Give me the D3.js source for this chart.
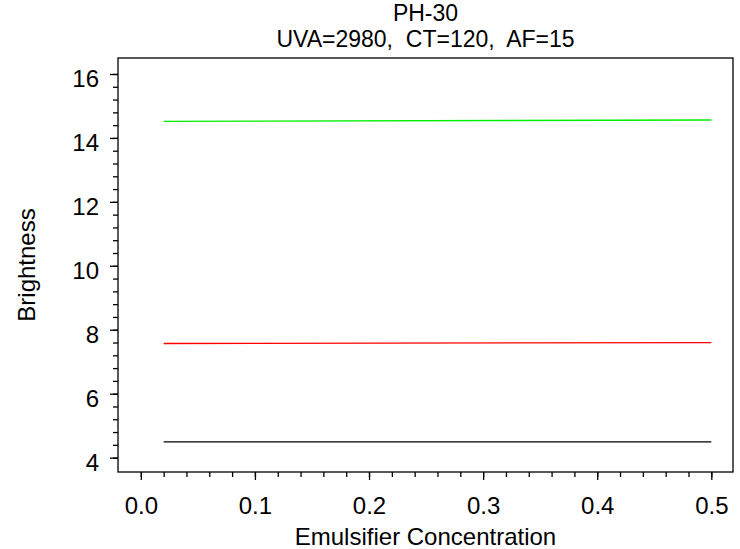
<!DOCTYPE html>
<html>
<head>
<meta charset="utf-8">
<script src="https://cdn.jsdelivr.net/npm/d3@7"></script>
<style>
  body { margin: 0; background: #fff; }
  text { font-family: "Liberation Sans", Arial, sans-serif; fill: #000; }
</style>
</head>
<body>
<div id="chart"></div>
<script>
// data
const concentration = [0.02, 0.5];
const greenSeries = [14.52, 14.56];
const redSeries = [7.57, 7.6];
const blackSeries = [4.49, 4.49];
const xTicks = [0, 0.1, 0.2, 0.3, 0.4, 0.5];
const yTicks = [4, 6, 8, 10, 12, 14, 16];
const titleLines = ['PH-30', 'UVA=2980,  CT=120,  AF=15'];

const width = 740;
const height = 549;
const margin = { top: 58, right: 7, bottom: 77, left: 118 };
const fontSize = '24px';

const svg = d3
  .select('#chart')
  .append('svg')
  .attr('width', width)
  .attr('height', height);

const x = d3
  .scaleLinear()
  .domain([-0.02, 0.519])
  .range([margin.left, width - margin.right]);

const y = d3
  .scaleLinear()
  .domain([3.55, 16.5])
  .range([height - margin.bottom, margin.top]);

// frame
svg
  .append('rect')
  .attr('x', margin.left)
  .attr('y', margin.top)
  .attr('width', width - margin.right - margin.left)
  .attr('height', height - margin.bottom - margin.top)
  .attr('fill', 'none')
  .attr('stroke', '#000')
  .attr('stroke-width', 1.3);

// minor ticks
const xMinor = d3.range(0, 0.5001, 0.02);
const yMinor = d3.range(4, 16.001, 0.4);

svg
  .append('g')
  .attr('transform', 'translate(0,' + (height - margin.bottom) + ')')
  .call(d3.axisBottom(x).tickValues(xMinor).tickSize(5).tickFormat(''))
  .call((g) => g.select('.domain').remove());

svg
  .append('g')
  .attr('transform', 'translate(' + margin.left + ',0)')
  .call(d3.axisLeft(y).tickValues(yMinor).tickSize(5).tickFormat(''))
  .call((g) => g.select('.domain').remove());

// major ticks
const xAxis = svg
  .append('g')
  .attr('transform', 'translate(0,' + (height - margin.bottom) + ')')
  .call(
    d3
      .axisBottom(x)
      .tickValues(xTicks)
      .tickSize(8)
      .tickPadding(17)
      .tickFormat(d3.format('.1f'))
  );
xAxis.select('.domain').remove();
xAxis.selectAll('text').style('font-size', fontSize);

const yAxis = svg
  .append('g')
  .attr('transform', 'translate(' + margin.left + ',0)')
  .call(d3.axisLeft(y).tickValues(yTicks).tickSize(8).tickPadding(11));
yAxis.select('.domain').remove();
yAxis.selectAll('text').style('font-size', fontSize).attr('dy', '0.53em');

svg.selectAll('.tick line').attr('stroke', '#000').attr('stroke-width', 1.3);

// series
const line = d3
  .line()
  .x((d) => x(d[0]))
  .y((d) => y(d[1]));

const seriesList = [
  { values: greenSeries, color: '#00ee00' },
  { values: redSeries, color: '#ff0000' },
  { values: blackSeries, color: '#000000' },
];

seriesList.forEach((s) => {
  svg
    .append('path')
    .datum(concentration.map((c, i) => [c, s.values[i]]))
    .attr('d', line)
    .attr('fill', 'none')
    .attr('stroke', s.color)
    .attr('stroke-width', 1.3);
});

// titles
svg
  .selectAll('.title')
  .data(titleLines)
  .join('text')
  .attr('class', 'title')
  .attr('x', (margin.left + width - margin.right) / 2)
  .attr('y', (d, i) => 21 + i * 26)
  .attr('text-anchor', 'middle')
  .style('font-size', '23px')
  .style('white-space', 'pre')
  .text((d) => d);

svg
  .append('text')
  .attr('x', (margin.left + width - margin.right) / 2)
  .attr('y', 545)
  .attr('text-anchor', 'middle')
  .style('font-size', fontSize)
  .text('Emulsifier Concentration');

svg
  .append('text')
  .attr('transform', 'translate(35,' + (margin.top + height - margin.bottom) / 2 + ') rotate(-90)')
  .attr('text-anchor', 'middle')
  .style('font-size', fontSize)
  .text('Brightness');
</script>
</body>
</html>
